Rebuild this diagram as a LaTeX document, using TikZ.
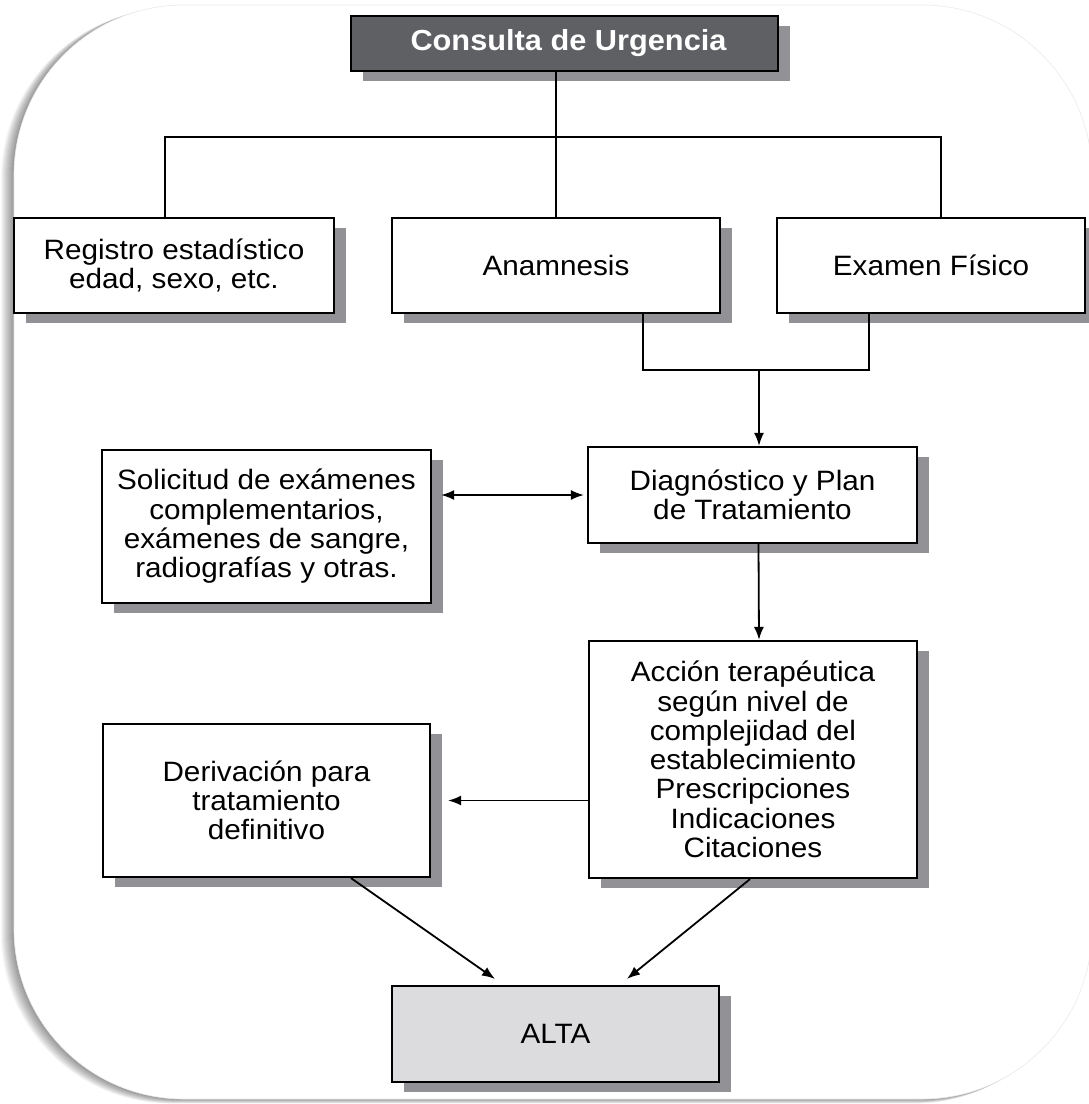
\documentclass[tikz,border=0pt]{standalone}
\usepackage{fontspec}
\setmainfont{Liberation Sans}[FakeStretch=1.06]
\usetikzlibrary{shadows,arrows.meta}
\definecolor{shd}{HTML}{929296}
\definecolor{topfill}{HTML}{5F6064}
\definecolor{altafill}{HTML}{DCDCDE}
\newcommand\boxfont{\fontsize{28}{29.3}\selectfont}
\newcommand\titlefont{\fontsize{29}{30}\selectfont\bfseries}
\tikzset{
  box/.style={draw=black, line width=2.2pt, fill=white, inner sep=0pt, align=center,
    font=\boxfont, drop shadow={shadow xshift=12pt, shadow yshift=-10pt, fill=shd, opacity=1}},
  ln/.style={line width=1.8pt},
  arr/.style={line width=1.8pt, -{Latex[length=13pt,width=10pt]}},
  darr/.style={line width=1.8pt, {Latex[length=13pt,width=10pt]}-{Latex[length=13pt,width=10pt]}},
}
\begin{document}
\begin{tikzpicture}[x=1pt,y=-1pt]
\useasboundingbox (0,0) rectangle (1089,1104);
\fill[white] (0,0) rectangle (1089,1104);
% card shadow
\foreach \i in {1,...,13} {
  \fill[black, opacity=0.035, rounded corners=170pt] (14-\i*1.0,5+\i*0.3) rectangle (1092-\i*0.6,1099+\i*0.35);
}
\fill[white, rounded corners=170pt] (14,5) rectangle (1092,1099);
\draw[black!8, line width=0.6pt, rounded corners=170pt] (14,5) rectangle (1092,1099);

% nodes
\node[box, fill=topfill, text=white, font=\titlefont, minimum width=427pt, minimum height=55pt] (top) at (564.5,43.5) {\hspace*{8pt}Consulta de Urgencia};
\node[box, minimum width=320pt, minimum height=95pt] (reg) at (174,265.5) {Registro estadístico\\edad, sexo, etc.};
\node[box, minimum width=328pt, minimum height=95pt] (ana) at (556,265.5) {Anamnesis};
\node[box, minimum width=308pt, minimum height=95pt] (exam) at (931,265.5) {Examen Físico};
\node[box, minimum width=329pt, minimum height=153pt] (sol) at (266.5,526.5) {Solicitud de exámenes\\complementarios,\\exámenes de sangre,\\radiografías y otras.};
\node[box, minimum width=329pt, minimum height=96pt] (diag) at (752.5,495) {Diagnóstico y Plan\\de Tratamiento};
\node[box, minimum width=328pt, minimum height=237pt] (acc) at (753,759.5) {Acción terapéutica\\según nivel de\\complejidad del\\establecimiento\\Prescripciones\\Indicaciones\\Citaciones};
\node[box, minimum width=327pt, minimum height=153pt] (der) at (266.5,800.5) {Derivación para\\tratamiento\\definitivo};
\node[box, fill=altafill, minimum width=327pt, minimum height=96pt] (alta) at (555.5,1034) {ALTA};

% connectors
\coordinate (bar) at (560,137);
\draw[ln] (ana.north |- top.south) -- (ana.north);
\draw[ln] ([xshift=-9pt]reg.north) |- (bar) -| ([xshift=10pt]exam.north);
\coordinate (j) at (759,370);
\draw[ln] ([xshift=87pt]ana.south) |- (j) -| ([xshift=-62pt]exam.south);
\draw[arr] (j) -- (j |- diag.north);
\draw[arr] ([xshift=6pt]diag.south) -- ([xshift=6pt]acc.north);
\draw[darr, shorten <=9pt, shorten >=3pt] (sol.east |- diag.west) -- (diag.west);
\draw[arr, shorten >=17pt] (acc.west |- der.east) -- (der.east);
\draw[arr] ([xshift=84.5pt]der.south) -- ([xshift=-60.5pt,yshift=6pt]alta.north);
\draw[arr] ([xshift=-3pt]acc.south) -- ([xshift=71.5pt,yshift=6pt]alta.north);
\end{tikzpicture}
\end{document}
